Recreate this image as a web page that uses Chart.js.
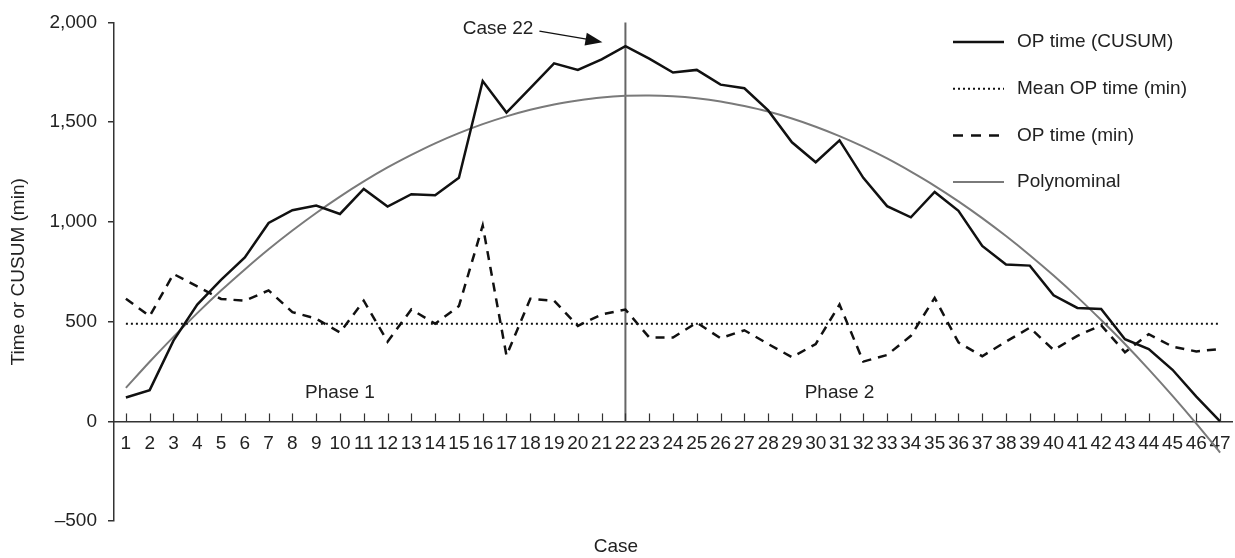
<!DOCTYPE html>
<html>
<head>
<meta charset="utf-8">
<title>OP time CUSUM</title>
<script src="https://cdn.jsdelivr.net/npm/chart.js@4"></script>
<style>
  html, body { margin: 0; padding: 0; background: #fff; }
  #wrap { width: 1235px; height: 558px; }
</style>
</head>
<body>
<div id="wrap"><canvas id="chart" width="1235" height="558"></canvas></div>
<script>
// data
const cases = ['1','2','3','4','5','6','7','8','9','10','11','12','13','14','15','16','17','18','19','20','21','22','23','24',
  '25','26','27','28','29','30','31','32','33','34','35','36','37','38','39','40','41','42','43','44','45','46','47'];
const cusum = [120, 157, 405, 586, 710, 822, 995, 1059, 1082, 1040, 1165, 1077, 1139, 1134, 1221, 1706, 1548, 1670, 1795, 1762,
  1815, 1881, 1818, 1749, 1762, 1688, 1670, 1559, 1399, 1299, 1409, 1221, 1079, 1023, 1150, 1056, 880, 787, 781, 632, 569, 564,
  412, 363, 259, 124, 0];
const opTime = [615, 528, 739, 677, 614, 605, 657, 548, 515, 446, 605, 400, 561, 490, 578, 982, 330, 615, 605, 479, 536, 561,
  421, 421, 495, 417, 457, 388, 322, 388, 586, 300, 333, 429, 619, 396, 327, 400, 470, 358, 429, 482, 347, 437, 375, 351, 363];
const polynominal = [168, 299, 424, 543, 656, 762, 863, 957, 1045, 1127, 1203, 1273, 1336, 1394, 1445, 1490, 1529, 1562, 1589,
  1609, 1624, 1632, 1634, 1630, 1620, 1604, 1581, 1553, 1518, 1477, 1430, 1377, 1318, 1252, 1181, 1103, 1019, 929, 833, 731, 623,
  508, 388, 261, 128, -11, -156];
const meanOpTime = 490;
const yTicks = [-500, 0, 500, 1000, 1500, 2000];
const splitCase = '22';
const phaseLabels = [{ text: 'Phase 1', at: '10' }, { text: 'Phase 2', at: '31' }];

const FONT = '"Liberation Sans", Arial, Helvetica, sans-serif';
const FS = 19;
const INK = '#222';
const AXIS = '#333';

// small upward tick marks on the x axis (at y = 0)
const innerTicks = {
  id: 'innerTicks',
  afterDatasetsDraw(chart) {
    const { ctx, scales: { x, y } } = chart;
    const y0 = y.getPixelForValue(0);
    ctx.save();
    ctx.strokeStyle = AXIS;
    ctx.lineWidth = 1.2;
    x.ticks.forEach((t, i) => {
      const px = Math.round(x.getPixelForTick(i)) + 0.5;
      ctx.beginPath();
      ctx.moveTo(px, y0);
      ctx.lineTo(px, y0 - 8);
      ctx.stroke();
    });
    ctx.restore();
  }
};

// vertical split line, phase labels and the "Case 22" arrow
const annotations = {
  id: 'annotations',
  beforeDatasetsDraw(chart) {
    const { ctx, chartArea, scales: { x, y } } = chart;
    const idx = cases.indexOf(splitCase);
    const px = x.getPixelForValue(idx);
    ctx.save();
    ctx.strokeStyle = '#666';
    ctx.lineWidth = 2;
    ctx.beginPath();
    ctx.moveTo(px, chartArea.top);
    ctx.lineTo(px, y.getPixelForValue(0));
    ctx.stroke();

    ctx.fillStyle = INK;
    ctx.font = FS + 'px ' + FONT;
    ctx.textAlign = 'center';
    ctx.textBaseline = 'middle';
    phaseLabels.forEach(p => {
      ctx.fillText(p.text, x.getPixelForValue(cases.indexOf(p.at)), y.getPixelForValue(145));
    });
    ctx.restore();
  },
  afterDraw(chart) {
    const { ctx, scales: { x, y } } = chart;
    const idx = cases.indexOf(splitCase);
    const tipX = x.getPixelForValue(idx) - 23;
    const tipY = y.getPixelForValue(cusum[idx]) - 4;
    const tailX = tipX - 63, tailY = tipY - 11;
    ctx.save();
    ctx.strokeStyle = '#111';
    ctx.fillStyle = '#111';
    ctx.lineWidth = 1.3;
    ctx.beginPath();
    ctx.moveTo(tailX, tailY);
    ctx.lineTo(tipX - 10, tipY - 2);
    ctx.stroke();
    const ang = Math.atan2(tipY - tailY, tipX - tailX);
    ctx.beginPath();
    ctx.moveTo(tipX, tipY);
    ctx.lineTo(tipX - 17 * Math.cos(ang) + 6.5 * Math.sin(ang), tipY - 17 * Math.sin(ang) - 6.5 * Math.cos(ang));
    ctx.lineTo(tipX - 17 * Math.cos(ang) - 6.5 * Math.sin(ang), tipY - 17 * Math.sin(ang) + 6.5 * Math.cos(ang));
    ctx.closePath();
    ctx.fill();
    ctx.fillStyle = INK;
    ctx.font = FS + 'px ' + FONT;
    ctx.textAlign = 'right';
    ctx.textBaseline = 'middle';
    ctx.fillText('Case ' + splitCase, tailX - 6, tailY - 2);
    ctx.restore();
  }
};

// legend on the right, drawn with each dataset's own line style
const sideLegend = {
  id: 'sideLegend',
  afterDraw(chart) {
    const { ctx } = chart;
    ctx.save();
    ctx.font = FS + 'px ' + FONT;
    ctx.textBaseline = 'middle';
    ctx.textAlign = 'left';
    chart.data.datasets.forEach((ds, row) => {
      const yy = 42 + row * 46.7;
      ctx.strokeStyle = ds.borderColor;
      ctx.lineWidth = ds.borderWidth;
      ctx.setLineDash(ds.legendDash || []);
      ctx.beginPath();
      ctx.moveTo(953, yy);
      ctx.lineTo(1004, yy);
      ctx.stroke();
      ctx.setLineDash([]);
      ctx.fillStyle = INK;
      ctx.fillText(ds.label, 1017, yy);
    });
    ctx.restore();
  }
};

const chart = new Chart(document.getElementById('chart'), {
  type: 'line',
  data: {
    labels: cases,
    datasets: [
      {
        label: 'OP time (CUSUM)',
        data: cusum,
        borderColor: '#111',
        borderWidth: 2.5,
        pointRadius: 0,
        tension: 0
      },
      {
        label: 'Mean OP time (min)',
        data: [{ x: cases[0], y: meanOpTime }, { x: cases[cases.length - 1], y: meanOpTime }],
        borderColor: '#111',
        borderWidth: 2,
        borderDash: [2, 3],
        legendDash: [2, 3],
        pointRadius: 0
      },
      {
        label: 'OP time (min)',
        data: opTime,
        borderColor: '#111',
        borderWidth: 2.5,
        borderDash: [9, 7],
        legendDash: [10, 8],
        pointRadius: 0,
        tension: 0
      },
      {
        label: 'Polynominal',
        data: polynominal,
        borderColor: '#7a7a7a',
        borderWidth: 2,
        pointRadius: 0,
        tension: 0.3
      }
    ]
  },
  options: {
    responsive: false,
    animation: false,
    layout: { padding: { top: 16, right: 3, left: 0, bottom: 0 } },
    scales: {
      x: {
        type: 'category',
        offset: true,
        position: { y: 0 },
        grid: { display: false },
        border: { display: true, color: AXIS, width: 1.5 },
        ticks: {
          autoSkip: false,
          maxRotation: 0,
          minRotation: 0,
          padding: 3,
          color: INK,
          font: { family: FONT, size: FS }
        },
        afterFit(scale) {
          scale.height = 0;
          scale.paddingLeft = 0;
          scale.paddingRight = 0;
        }
      },
      y: {
        min: -500,
        max: 2000,
        afterBuildTicks(scale) {
          scale.ticks = yTicks.map(v => ({ value: v }));
        },
        grid: {
          drawOnChartArea: false,
          drawTicks: true,
          tickLength: 6,
          color: AXIS,
          lineWidth: 1.5
        },
        border: { display: true, color: AXIS, width: 1.5 },
        ticks: {
          padding: 11,
          color: INK,
          font: { family: FONT, size: FS }
        ,
          callback: v => v < 0 ? '\u2013' + Math.abs(v).toLocaleString('en-US') : v.toLocaleString('en-US')
        },
        title: {
          display: true,
          text: 'Time or CUSUM (min)',
          color: INK,
          font: { family: FONT, size: FS },
          padding: { top: 7, bottom: 0 }
        },
        afterFit(scale) {
          scale.width = 114;
        }
      }
    },
    plugins: {
      legend: { display: false },
      tooltip: { enabled: false },
      title: {
        display: true,
        text: 'Case',
        position: 'bottom',
        color: INK,
        font: { family: FONT, size: FS, weight: 'normal' },
        padding: { top: 14, bottom: 0 }
      }
    }
  },
  plugins: [annotations, innerTicks, sideLegend]
});
</script>
</body>
</html>
